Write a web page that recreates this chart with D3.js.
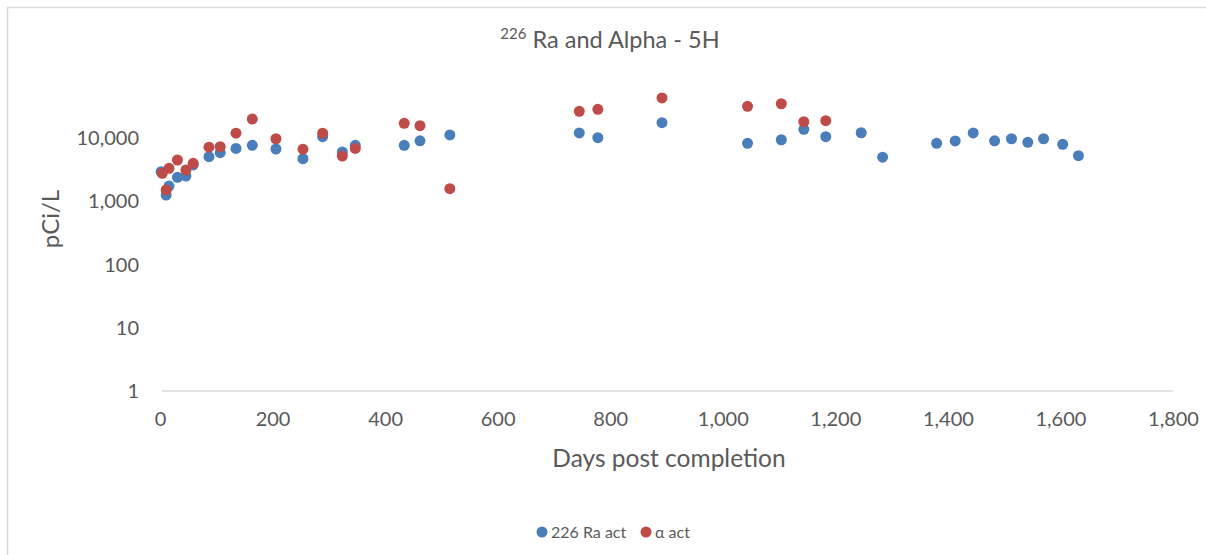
<!DOCTYPE html>
<html>
<head>
<meta charset="utf-8">
<script src="https://cdn.jsdelivr.net/npm/d3@7"></script>
<style>
  html, body { margin: 0; padding: 0; background: #fff; }
  svg { display: block; font-family: Lato, "Open Sans", sans-serif; }
</style>
</head>
<body>
<svg id="chart" width="1206" height="555"></svg>
<script>
// Days after well completion, shared by both series
const raDays = [2, 11, 16, 31, 46, 59, 87, 107, 135, 164, 206, 254, 289, 324, 347,
  434, 462, 515, 745, 778, 892, 1044, 1104, 1144, 1183, 1246, 1284, 1380, 1413,
  1445, 1483, 1513, 1542, 1570, 1604, 1632];
// 226Ra activity, pCi/L
const raValues = [2950, 1260, 1750, 2400, 2520, 3770, 5100, 5900, 6900, 7700, 6750,
  4750, 10550, 6050, 7700, 7700, 9100, 11250, 12100, 10200, 17600, 8300, 9450,
  13800, 10550, 12200, 5000, 8300, 9050, 12100, 9100, 9800, 8600, 9800, 8000, 5300];

const alphaDays = [4, 11, 16, 31, 46, 59, 87, 107, 135, 164, 206, 254, 289, 324, 347,
  434, 462, 515, 745, 778, 892, 1044, 1104, 1144, 1183];
// Gross alpha activity, pCi/L
const alphaValues = [2790, 1520, 3340, 4520, 3140, 4000, 7200, 7350, 12000, 20100,
  9800, 6700, 12000, 5230, 6900, 17200, 15800, 1590, 26600, 28600, 43300, 32000,
  35100, 18200, 18900];

const xTicks = [0, 200, 400, 600, 800, 1000, 1200, 1400, 1600, 1800];
const yTicks = [1, 10, 100, 1000, 10000];

const seriesNames = ["226 Ra act", "\u03b1 act"];
const seriesColors = ["#4a7ebb", "#be4b48"];

const svg = d3.select("#chart");
const textColor = "#595959";

// chart frame
svg.append("rect")
  .attr("x", 7.5).attr("y", 7.5)
  .attr("width", 1220).attr("height", 570)
  .attr("fill", "#fff")
  .attr("stroke", "#d9d9d9").attr("stroke-width", 1.5);

const x = d3.scaleLinear().domain([0, 1800]).range([160, 1173]);
const y = d3.scaleLog().domain([1, 100000]).range([391, 75]);

// horizontal axis line
svg.append("line")
  .attr("x1", x(0) + 2).attr("x2", x(1800))
  .attr("y1", y(1)).attr("y2", y(1))
  .attr("stroke", "#d9d9d9").attr("stroke-width", 1.5);

// x axis labels
const xAxis = d3.axisBottom(x)
  .tickValues(xTicks)
  .tickFormat(d3.format(","))
  .tickSize(0)
  .tickPadding(0);
const gx = svg.append("g").attr("transform", `translate(0,${y(1) + 29})`).call(xAxis);
gx.select(".domain").remove();
gx.selectAll("text")
  .attr("fill", textColor)
  .attr("font-size", 20)
  .attr("font-family", "Lato, sans-serif")
  .attr("dy", "0.32em");

// y axis labels
const yAxis = d3.axisLeft(y)
  .tickValues(yTicks)
  .tickFormat(d3.format(","))
  .tickSize(0)
  .tickPadding(0);
const gy = svg.append("g").attr("transform", `translate(139,0)`).call(yAxis);
gy.select(".domain").remove();
gy.selectAll("text")
  .attr("fill", textColor)
  .attr("font-size", 20)
  .attr("font-family", "Lato, sans-serif");

// title with superscript mass number
const title = svg.append("text")
  .attr("x", 610).attr("y", 48)
  .attr("text-anchor", "middle")
  .attr("fill", textColor)
  .attr("font-size", 23.5);
title.append("tspan").text("226").attr("font-size", 15).attr("dy", -9);
title.append("tspan").text(" Ra and Alpha - 5H").attr("dy", 9);

// axis titles
svg.append("text")
  .attr("x", 669).attr("y", 467)
  .attr("text-anchor", "middle")
  .attr("fill", textColor)
  .attr("font-size", 24.5)
  .text("Days post completion");

svg.append("text")
  .attr("transform", "translate(59,219) rotate(-90)")
  .attr("text-anchor", "middle")
  .attr("fill", textColor)
  .attr("font-size", 24)
  .text("pCi/L");

// points
const series = [
  { days: raDays, values: raValues },
  { days: alphaDays, values: alphaValues }
];
series.forEach((s, i) => {
  svg.append("g")
    .selectAll("circle")
    .data(s.days.map((d, j) => [d, s.values[j]]))
    .join("circle")
    .attr("cx", d => x(d[0]))
    .attr("cy", d => y(d[1]))
    .attr("r", 5.5)
    .attr("fill", seriesColors[i]);
});

// legend
const legendPos = [[542, 551], [646, 655]];
seriesNames.forEach((name, i) => {
  svg.append("circle")
    .attr("cx", legendPos[i][0]).attr("cy", 532)
    .attr("r", 5.5).attr("fill", seriesColors[i]);
  svg.append("text")
    .attr("x", legendPos[i][1]).attr("y", 532)
    .attr("dy", "0.35em")
    .attr("fill", textColor)
    .attr("font-size", 16)
    .text(name);
});
</script>
</body>
</html>
